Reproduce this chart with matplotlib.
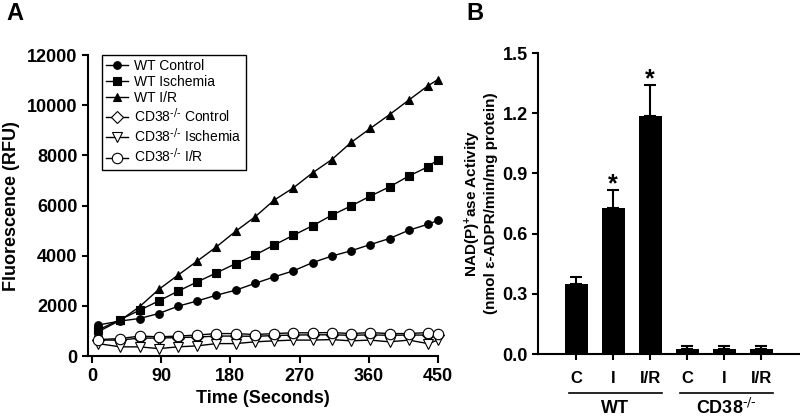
import numpy as np
import matplotlib
matplotlib.use("Agg")
from matplotlib import pyplot as plt
from matplotlib.lines import Line2D

plt.rcParams['font.family'] = ['Liberation Sans', 'DejaVu Sans']
plt.rcParams['mathtext.default'] = 'regular'

# Panel A: fluorescence over time
time_s = [8, 37, 62, 87, 112, 137, 162, 187, 212, 237, 262, 287, 312,
          337, 362, 387, 412, 437, 450]
wt_control = [1240, 1400, 1500, 1700, 1990, 2200, 2430, 2630, 2900, 3160,
              3400, 3730, 3990, 4200, 4450, 4690, 5020, 5260, 5410]
wt_ischemia = [1040, 1460, 1830, 2200, 2590, 2960, 3320, 3690, 4030, 4430,
               4820, 5200, 5620, 5990, 6380, 6750, 7180, 7550, 7840]
wt_ir = [970, 1430, 1970, 2660, 3230, 3790, 4360, 4980, 5550, 6220,
         6710, 7310, 7840, 8520, 9080, 9630, 10210, 10780, 11030]
ko_control = [640, 640, 720, 720, 740, 760, 800, 800, 790, 820,
              840, 850, 850, 830, 850, 830, 840, 840, 830]
ko_ischemia = [500, 370, 370, 300, 370, 410, 500, 500, 570, 610,
               640, 640, 660, 610, 640, 570, 640, 500, 640]
ko_ir = [660, 700, 800, 770, 800, 840, 900, 900, 860, 900,
         930, 930, 940, 900, 940, 900, 900, 940, 900]

# Panel B: NAD(P)+ase activity
bar_labels = ["C", "I", "I/R", "C", "I", "I/R"]
activity = [0.35, 0.726, 1.187, 0.027, 0.027, 0.027]
activity_err = [0.036, 0.091, 0.152, 0.013, 0.013, 0.013]
significant = [False, True, True, False, False, False]
groups = ["WT", r"CD38$^{\text{-/-}}$"]

KO = r"CD38$^{\text{-/-}}$"


def style_axis(ax, size=13):
    for side in ("top", "right"):
        ax.spines[side].set_visible(False)
    for side in ("left", "bottom"):
        ax.spines[side].set_linewidth(1.5)
    ax.tick_params(direction="out", width=1.5, labelsize=size)
    for lab in ax.get_xticklabels() + ax.get_yticklabels():
        lab.set_fontweight("bold")


def plot_panel_a(ax):
    series = [
        (wt_control, "o", "black", 5.5, "WT Control"),
        (wt_ischemia, "s", "black", 5.5, "WT Ischemia"),
        (wt_ir, "^", "black", 6, "WT I/R"),
        (ko_control, "D", "white", 6, KO + " Control"),
        (ko_ischemia, "v", "white", 7, KO + " Ischemia"),
        (ko_ir, "o", "white", 7.5, KO + " I/R"),
    ]
    for values, marker, face, size, label in series:
        ax.plot(time_s, values, color="black", lw=1, marker=marker,
                markersize=size, markerfacecolor=face,
                markeredgecolor="black", markeredgewidth=0.8,
                label=label, clip_on=False)
    ax.set_xlim(-5, 450)
    ax.set_ylim(0, 12000)
    ax.set_xticks(range(0, 451, 90))
    ax.set_yticks(range(0, 12001, 2000))
    ax.tick_params(axis="x", length=5)
    ax.tick_params(axis="y", length=4)
    ax.set_xlabel("Time (Seconds)", fontsize=13, fontweight="bold", labelpad=4)
    ax.set_ylabel("Fluorescence (RFU)", fontsize=13, fontweight="bold",
                  labelpad=5)
    style_axis(ax)
    leg = ax.legend(loc="upper left", bbox_to_anchor=(0.04, 1.0),
                    borderaxespad=0, fontsize=10, handlelength=1.6,
                    handletextpad=0.4, labelspacing=0.12, fancybox=False,
                    edgecolor="black", framealpha=1, borderpad=0.3)
    leg.get_frame().set_linewidth(1)


def plot_panel_b(ax):
    pos = np.arange(len(activity))
    ax.bar(pos, activity, width=0.62, color="black")
    lower = np.zeros(len(activity))
    ax.errorbar(pos, activity, yerr=[lower, activity_err], fmt="none",
                ecolor="black", elinewidth=1.5, capsize=4, capthick=1.5)
    for x, v, e, sig in zip(pos, activity, activity_err, significant):
        if sig:
            ax.text(x, v + e + 0.028, "*", ha="center", va="center",
                    fontsize=18, fontweight="bold")
    ax.set_xlim(-1.03, 6.03)
    ax.set_ylim(0, 1.5)
    ax.set_yticks(np.arange(0, 1.51, 0.3))
    ax.set_yticklabels(["%.1f" % v for v in np.arange(0, 1.51, 0.3)])
    ax.set_xticks(pos)
    ax.set_xticklabels(bar_labels)
    ax.tick_params(axis="x", length=4, pad=8)
    ax.tick_params(axis="y", length=4)
    ax.set_ylabel("NAD(P)$^{+}$ase Activity\n(nmol \u03b5-ADPR/min/mg protein)",
                  fontsize=11, fontweight="bold", labelpad=3,
                  linespacing=1.05)
    style_axis(ax)
    for lab in ax.get_xticklabels():
        lab.set_fontsize(12)
    # group brackets under the category labels
    for g, (start, stop) in enumerate([(0, 2), (3, 5)]):
        x0, x1 = start - 0.2, stop + 0.33
        ax.add_line(Line2D([x0, x1], [-0.13, -0.13], color="black", lw=1.2,
                           transform=ax.get_xaxis_transform(), clip_on=False))
        ax.text((x0 + x1) / 2, -0.18, groups[g], ha="center", va="center",
                fontsize=13, fontweight="bold",
                transform=ax.get_xaxis_transform())


fig = plt.figure(figsize=(8, 4.18), dpi=100)
ax_a = fig.add_axes([0.11, 0.148, 0.4375, 0.72])
ax_b = fig.add_axes([0.6725, 0.153, 0.3265, 0.72])
plot_panel_a(ax_a)
plot_panel_b(ax_b)
fig.text(0.008, 0.995, "A", fontsize=17, fontweight="bold", va="top")
fig.text(0.583, 0.995, "B", fontsize=17, fontweight="bold", va="top")
fig.savefig("out.png", dpi=100)
